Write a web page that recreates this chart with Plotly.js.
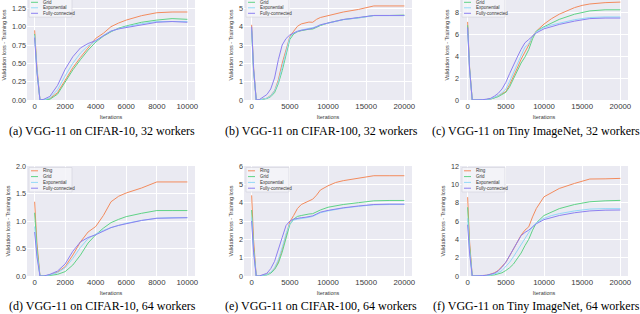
<!DOCTYPE html>
<html>
<head>
<meta charset="utf-8">
<script src="https://cdn.plot.ly/plotly-3.0.1.min.js"></script>
<style>
html,body{margin:0;padding:0;width:640px;height:314px;overflow:hidden;background:#fff;}
#chart{position:absolute;left:0;top:-10px;width:640px;height:324px;}
</style>
</head>
<body>
<div id="chart"></div>
<script>
// ---------- data ----------
const SERIES_NAMES = ["Ring", "Grid", "Exponential", "Fully-connected"];
const CAPTIONS = [
  "(a) VGG-11 on CIFAR-10, 32 workers",
  "(b) VGG-11 on CIFAR-100, 32 workers",
  "(c) VGG-11 on Tiny ImageNet, 32 workers",
  "(d) VGG-11 on CIFAR-10, 64 workers",
  "(e) VGG-11 on CIFAR-100, 64 workers",
  "(f) VGG-11 on Tiny ImageNet, 64 workers"
];
const ITER_10K = [0,150,350,600,1000,1500,2000,2500,3000,3500,4000,4500,5000,5500,6000,7000,8000,9000,10000];
const ITER_20K = [0,250,600,1000,2000,2500,3000,3500,4000,4500,5000,5500,6000,6500,7000,7500,8000,8500,9000,10000,11000,12000,14000,15000,16000,18000,20000];

// (a) CIFAR-10, 32 workers
const A_RING = [0.95,0.45,0.0,0.0,0.02,0.10,0.27,0.44,0.58,0.71,0.84,0.91,1.00,1.05,1.09,1.15,1.19,1.20,1.20];
const A_GRID = [0.90,0.40,0.0,0.0,0.01,0.08,0.24,0.41,0.55,0.68,0.79,0.87,0.93,0.98,1.01,1.06,1.09,1.11,1.10];
const A_EXP  = [0.88,0.40,0.0,0.0,0.03,0.14,0.33,0.50,0.64,0.74,0.80,0.88,0.94,0.97,1.00,1.04,1.07,1.07,1.07];
const A_FC   = [0.85,0.38,0.0,0.01,0.05,0.20,0.42,0.59,0.71,0.77,0.81,0.88,0.94,0.97,0.99,1.02,1.06,1.07,1.06];
// (b) CIFAR-100, 32 workers
const B_RING = [4.1,1.8,0.0,0.0,0.10,0.25,0.5,1.1,2.0,2.8,3.45,3.75,4.02,4.15,4.22,4.25,4.24,4.4,4.5,4.6,4.72,4.8,4.94,5.02,5.13,5.13,5.13];
const B_GRID = [3.8,1.6,0.0,0.0,0.08,0.18,0.4,0.9,1.6,2.5,3.3,3.6,3.72,3.78,3.84,3.86,3.87,3.97,4.06,4.2,4.3,4.39,4.48,4.55,4.61,4.61,4.63];
const B_EXP  = [3.9,1.7,0.0,0.0,0.10,0.22,0.5,1.0,1.8,2.6,3.4,3.65,3.75,3.82,3.86,3.9,3.93,4.0,4.1,4.2,4.3,4.38,4.48,4.55,4.6,4.6,4.6];
const B_FC   = [4.0,1.7,0.0,0.02,0.3,0.6,1.2,2.2,3.0,3.35,3.55,3.65,3.75,3.8,3.84,3.88,3.91,4.0,4.1,4.2,4.3,4.39,4.5,4.56,4.61,4.61,4.61];
// (c) Tiny ImageNet, 32 workers
const C_RING = [7.1,3.0,0.0,0.0,0.02,0.05,0.1,0.2,0.4,0.55,0.76,1.4,2.1,2.9,3.7,4.3,5.0,5.8,6.26,6.9,7.4,7.8,8.4,8.6,8.73,8.85,8.9];
const C_GRID = [6.8,2.9,0.0,0.0,0.02,0.04,0.08,0.18,0.3,0.5,0.7,1.2,1.9,2.6,3.36,3.9,4.58,5.56,6.26,6.66,7.0,7.33,7.8,7.95,8.1,8.2,8.2];
const C_EXP  = [6.5,2.8,0.0,0.0,0.02,0.05,0.1,0.25,0.4,0.65,1.0,1.7,2.5,3.2,4.0,4.8,5.1,5.8,6.2,6.6,6.82,7.0,7.3,7.4,7.5,7.55,7.55];
const C_FC   = [6.6,2.8,0.0,0.0,0.03,0.08,0.15,0.35,0.6,1.0,1.6,2.4,3.2,3.9,4.6,5.2,5.5,5.8,6.1,6.47,6.7,6.87,7.17,7.3,7.4,7.45,7.45];
// (d) CIFAR-10, 64 workers
const D_RING = [1.35,0.60,0.0,0.0,0.02,0.07,0.17,0.38,0.62,0.80,0.90,1.10,1.35,1.45,1.51,1.60,1.71,1.71,1.71];
const D_GRID = [1.15,0.50,0.0,0.0,0.01,0.03,0.08,0.20,0.38,0.60,0.75,0.87,0.97,1.03,1.08,1.14,1.19,1.19,1.19];
const D_EXP  = [0.90,0.40,0.0,0.0,0.02,0.06,0.15,0.32,0.52,0.68,0.76,0.83,0.88,0.92,0.96,1.01,1.05,1.06,1.06];
const D_FC   = [0.80,0.35,0.0,0.0,0.03,0.09,0.22,0.45,0.62,0.70,0.75,0.82,0.88,0.92,0.95,1.01,1.05,1.06,1.06];
// (e) CIFAR-100, 64 workers
const E_RING = [4.4,2.0,0.0,0.0,0.1,0.2,0.4,0.8,1.45,2.2,2.95,3.3,3.68,3.9,4.0,4.08,4.19,4.41,4.69,4.92,5.1,5.2,5.33,5.4,5.47,5.47,5.47];
const E_GRID = [3.6,1.6,0.0,0.0,0.06,0.15,0.35,0.7,1.3,2.05,2.8,3.1,3.25,3.3,3.35,3.38,3.4,3.5,3.6,3.75,3.83,3.9,4.0,4.05,4.1,4.12,4.12];
const E_EXP  = [3.2,1.4,0.0,0.0,0.08,0.2,0.45,0.9,1.55,2.3,2.85,3.05,3.1,3.12,3.15,3.2,3.25,3.35,3.45,3.55,3.63,3.7,3.8,3.84,3.88,3.9,3.9];
const E_FC   = [3.0,1.3,0.0,0.0,0.15,0.4,0.8,1.4,2.1,2.75,3.0,3.1,3.15,3.18,3.2,3.24,3.28,3.38,3.48,3.58,3.66,3.72,3.82,3.86,3.9,3.92,3.92];
// (f) Tiny ImageNet, 64 workers
const F_RING = [8.6,3.8,0.0,0.0,0.03,0.08,0.2,0.35,0.6,1.0,1.5,2.2,3.0,3.7,4.45,5.0,5.36,6.45,7.37,8.64,9.1,9.55,10.1,10.3,10.58,10.6,10.65];
const F_GRID = [7.5,3.3,0.0,0.0,0.02,0.04,0.08,0.12,0.2,0.35,0.6,0.9,1.3,1.85,2.5,3.3,4.0,5.0,5.8,6.6,7.0,7.35,7.8,7.95,8.1,8.2,8.25];
const F_EXP  = [6.3,2.8,0.0,0.0,0.03,0.06,0.12,0.2,0.35,0.6,1.0,1.5,2.1,2.75,3.4,4.1,4.8,5.4,5.8,6.3,6.6,6.8,7.1,7.2,7.3,7.35,7.35];
const F_FC   = [5.6,2.5,0.0,0.0,0.04,0.09,0.18,0.3,0.55,0.95,1.5,2.2,3.0,3.7,4.4,4.75,5.0,5.35,5.7,6.15,6.4,6.6,6.9,7.0,7.1,7.18,7.2];

const Y_MAX   = [1.5, 6, 10, 2, 6, 12];
const Y_DTICK = [0.25, 1, 2, 0.5, 1, 2];
const Y_FMT   = [".2f", "d", "d", ".1f", "d", "d"];

// ---------- build ----------
const COLORS = ["#f38b5d", "#5fd386", "#93d9f7", "#8d80f0"];
const panels = [
  {x: ITER_10K, ys: [A_RING, A_GRID, A_EXP, A_FC]},
  {x: ITER_20K, ys: [B_RING, B_GRID, B_EXP, B_FC]},
  {x: ITER_20K, ys: [C_RING, C_GRID, C_EXP, C_FC]},
  {x: ITER_10K, ys: [D_RING, D_GRID, D_EXP, D_FC]},
  {x: ITER_20K, ys: [E_RING, E_GRID, E_EXP, E_FC]},
  {x: ITER_20K, ys: [F_RING, F_GRID, F_EXP, F_FC]}
];
const W = 640, H = 324;
const colPx = [[27,195],[244,412],[460,628]];
const rowPx = [[0,110],[176,286]];
const capX = [102, 321, 536];
const capY = [140.8, 315.8];
// legend row offsets (px below plot top); top row is partly above the visible page
const LEG_ROWS = [[null, 12.3, 17.8, 23.3], [4.8, 10.6, 16.4, 22.2]];

const traces = [];
const layout = {
  width: W, height: H,
  margin: {l:0, r:0, t:0, b:0, pad:0},
  paper_bgcolor: "#ffffff",
  plot_bgcolor: "#eaeaf2",
  showlegend: false,
  font: {family: "Liberation Sans, Arial, sans-serif", color: "#333"},
  shapes: [],
  annotations: []
};
const xTickFont = {family: "Liberation Sans, Arial, sans-serif", size: 7.8, color: "#3a3a3a"};
const yTickFont = {family: "Liberation Sans, Arial, sans-serif", size: 7.2, color: "#3a3a3a"};
const titleFont = {family: "Liberation Sans, Arial, sans-serif", size: 5.5, color: "#3a3a3a"};

panels.forEach((p, i) => {
  const r = Math.floor(i / 3), c = i % 3;
  const n = i + 1;
  const xa = n === 1 ? "x" : "x" + n;
  const ya = n === 1 ? "y" : "y" + n;
  const xk = n === 1 ? "xaxis" : "xaxis" + n;
  const yk = n === 1 ? "yaxis" : "yaxis" + n;
  const is10k = p.x === ITER_10K;
  layout[xk] = {
    domain: [colPx[c][0] / W, colPx[c][1] / W],
    anchor: ya,
    range: is10k ? [-500, 10500] : [-1000, 21000],
    dtick: is10k ? 2000 : 5000, tick0: 0,
    tickformat: "d",
    showgrid: true, gridcolor: "#ffffff", gridwidth: 1,
    zeroline: false, showline: false, ticks: "",
    tickfont: xTickFont,
    title: {text: "Iterations", font: titleFont, standoff: 5}
  };
  layout[yk] = {
    domain: [1 - rowPx[r][1] / H, 1 - rowPx[r][0] / H],
    anchor: xa,
    range: [0, Y_MAX[i]],
    dtick: Y_DTICK[i], tick0: 0,
    tickformat: Y_FMT[i],
    showgrid: true, gridcolor: "#ffffff", gridwidth: 1,
    zeroline: false, showline: false, ticks: "",
    tickfont: yTickFont,
    title: {text: "Validation loss - Training loss", font: titleFont, standoff: 5}
  };
  p.ys.forEach((ys, k) => {
    traces.push({
      type: "scatter", mode: "lines",
      x: p.x, y: ys, name: SERIES_NAMES[k],
      xaxis: xa, yaxis: ya,
      line: {color: COLORS[k], width: 1},
      hoverinfo: "skip"
    });
  });
  // custom compact legend
  const xd = xa + " domain", yd = ya + " domain";
  const pw = 168, ph = 110;
  const rowsY = LEG_ROWS[r];
  const boxTop = r === 0 ? -2 : 1.5;
  layout.shapes.push({
    type: "rect", xref: xd, yref: yd,
    x0: 2 / pw, x1: 45 / pw, y0: 1 - (rowsY[3] + 3.8) / ph, y1: 1 - boxTop / ph,
    fillcolor: "rgba(244,244,249,0.85)", line: {color: "#d2d2da", width: 0.6}, layer: "above"
  });
  SERIES_NAMES.forEach((nm, k) => {
    if (rowsY[k] === null) return; // entry lies above the visible page in the reference
    const yy = 1 - rowsY[k] / ph;
    layout.shapes.push({
      type: "line", xref: xd, yref: yd,
      x0: 4 / pw, x1: 11 / pw, y0: yy, y1: yy,
      line: {color: COLORS[k], width: 1}, layer: "above"
    });
    layout.annotations.push({
      xref: xd, yref: yd, x: 14 / pw, y: yy,
      xanchor: "left", yanchor: "middle", showarrow: false,
      text: nm, font: {family: "Liberation Sans, Arial, sans-serif", size: 4.5, color: "#333"}
    });
  });
  // caption
  layout.annotations.push({
    xref: "paper", yref: "paper",
    x: capX[c] / W, y: 1 - capY[r] / H,
    xanchor: "center", yanchor: "middle", showarrow: false,
    text: CAPTIONS[i],
    font: {family: "Liberation Serif, Times New Roman, serif", size: 12, color: "#000"}
  });
});

Plotly.newPlot("chart", traces, layout, {staticPlot: true, displayModeBar: false});
</script>
</body>
</html>
